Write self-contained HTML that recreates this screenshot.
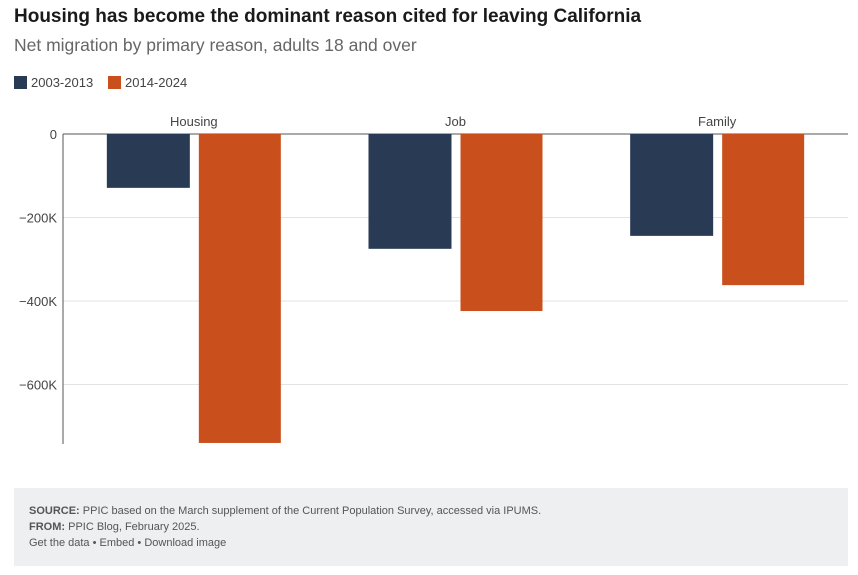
<!DOCTYPE html>
<html><head><meta charset="utf-8"><style>
body{margin:0;width:858px;height:575px;background:#fff;font-family:"Liberation Sans",sans-serif;position:relative;overflow:hidden}
#title{position:absolute;left:14px;top:6px;font-size:19px;font-weight:bold;color:#1a1a1a}
#sub{position:absolute;left:14px;top:35px;font-size:17.5px;color:#666}
.leg{position:absolute;top:75px;font-size:13px;color:#444;display:flex;align-items:center}
.sw{width:13px;height:13px;margin-right:4px;display:inline-block}
#foot{position:absolute;left:14px;top:488px;width:834px;height:78px;background:#eeeff0;font-size:11px;color:#555;line-height:16px}
#foot div{position:absolute;left:15px}
</style></head><body>
<div id="title">Housing has become the dominant reason cited for leaving California</div>
<div id="sub">Net migration by primary reason, adults 18 and over</div>
<div class="leg" style="left:14px"><span class="sw" style="background:#283a54"></span>2003-2013</div>
<div class="leg" style="left:108px"><span class="sw" style="background:#c9501c"></span>2014-2024</div>
<svg id="chart" width="858" height="480" style="position:absolute;left:0;top:0"></svg>
<div id="foot">
<div style="top:15px"><b>SOURCE:</b> PPIC based on the March supplement of the Current Population Survey, accessed via IPUMS.</div>
<div style="top:31px"><b>FROM:</b> PPIC Blog, February 2025.</div>
<div style="top:47px">Get the data • Embed • Download image</div>
</div>
<script>
const categories=["Housing","Job","Family"];
const s2003=[-129000,-275000,-244000];
const s2014=[-740000,-424000,-362000];
const ticks=[0,-200000,-400000,-600000];
const tickLabels=["0","-200K","-400K","-600K"];
const svg=document.getElementById('chart');
const NS="http://www.w3.org/2000/svg";
const x0=63,x1=848,y0=134,pxPer=0.0004175;
const y=v=>y0-v*pxPer;
const gw=(x1-x0)/categories.length;
function add(tag,attrs){const e=document.createElementNS(NS,tag);for(const k in attrs)e.setAttribute(k,attrs[k]);svg.appendChild(e);return e;}
ticks.forEach((t,i)=>{
 const g=add('line',{x1:x0,x2:x1,y1:y(t),y2:y(t),stroke:i==0?'#555':'#e3e3e3','stroke-width':1});
 
 
 const tx=add('text',{x:57,y:y(t)+5,'text-anchor':'end','font-size':13,fill:'#444','font-family':'Liberation Sans'});
 tx.textContent=tickLabels[i].replace('-','\u2212');
 
 
});
const ax=add('line',{x1:x0,x2:x0,y1:y0,y2:444,stroke:'#555'});


categories.forEach((c,i)=>{
 const cx=x0+gw*i+gw/2;
 const lb=add('text',{x:cx,y:126,'text-anchor':'middle','font-size':13,fill:'#444','font-family':'Liberation Sans'});
 lb.textContent=c;
 
 
 const b1=add('rect',{x:cx-87,y:y0,width:83,height:y(s2003[i])-y0,fill:'#283a54'});
 
 
 const b2=add('rect',{x:cx+5,y:y0,width:82,height:y(s2014[i])-y0,fill:'#c9501c'});
 
 
});
</script>
</body></html>
